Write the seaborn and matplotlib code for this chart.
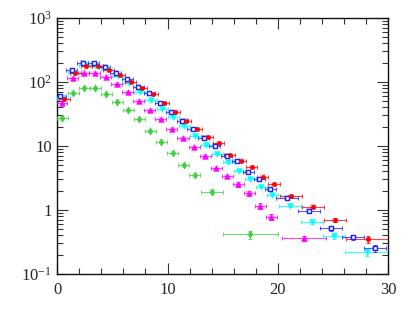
import matplotlib
matplotlib.use('Agg')
import matplotlib.pyplot as plt
import numpy as np
import pandas as pd
import seaborn as sns
from matplotlib.ticker import FixedLocator, FixedFormatter, LogLocator, NullFormatter, MultipleLocator

# ---- data ----
red_x = [0.65, 1.65, 2.65, 3.65, 4.65, 5.65, 6.65, 7.65, 8.65, 9.65, 10.65, 11.65,
         12.65, 13.65, 14.65, 15.65, 16.65, 17.65, 18.65, 19.65, 21.2, 23.2, 25.2, 28.2]
red_xerr = [0.5] * 20 + [1.0, 1.0, 1.0, 2.0]
red_y = [53.7, 140, 178, 178, 154, 128, 101, 79.7, 64.2, 46.5, 34.4, 24.9,
         18.2, 13.7, 11.0, 7.24, 5.89, 4.65, 3.31, 2.55, 1.65, 1.13, 0.70, 0.35]
red_yerr = [0] * 20 + [0.08, 0.07, 0.06, 0.04]

blue_x = [0.25, 1.3, 2.3, 3.3, 4.3, 5.3, 6.35, 7.35, 8.35, 9.35, 10.35, 11.35,
          12.3, 13.3, 14.3, 15.35, 16.3, 17.3, 18.3, 19.3, 20.8, 22.8, 24.8, 26.8, 28.8]
blue_xerr = [0.5] * 20 + [1.0] * 5
blue_y = [60.4, 154, 200, 196, 173, 140, 110, 84.5, 66.6, 46.5, 34.0, 24.9,
          18.2, 13.5, 10.1, 7.05, 5.83, 3.92, 3.05, 2.13, 1.56, 0.975, 0.518, 0.375, 0.252]
blue_yerr = [0] * 20 + [0.06, 0.05, 0.04, 0.03, 0.03]

cyan_x = [0.5, 1.5, 2.5, 3.5, 4.5, 5.5, 6.5, 7.5, 8.5, 9.5, 10.5, 11.5,
          12.5, 13.5, 14.5, 15.5, 16.5, 17.5, 18.5, 19.5, 21.1, 23.1, 25.1, 28.05]
cyan_xerr = [0.5] * 20 + [1.0, 1.0, 1.0, 2.0]
cyan_y = [55.6, 140, 184, 180, 160, 126, 98.2, 70.5, 52.3, 38.5, 28.4, 20.5,
          14.4, 10.4, 7.6, 5.56, 4.10, 3.05, 2.30, 1.71, 1.17, 0.657, 0.392, 0.218]
cyan_yerr = [0] * 20 + [0.06, 0.05, 0.04, 0.03]

magenta_x = [0.4, 1.4, 2.4, 3.4, 4.4, 5.4, 6.4, 7.4, 8.4, 9.4, 10.4, 11.4,
             12.4, 13.4, 14.4, 15.4, 16.4, 17.4, 18.4, 19.4, 22.4]
magenta_xerr = [0.5] * 20 + [2.0]
magenta_y = [46.5, 114, 140, 137, 121, 92.1, 69.0, 50.5, 36.1, 26.2, 18.2, 13.2,
             9.54, 6.98, 4.48, 3.40, 2.52, 1.82, 1.155, 0.786, 0.361]
magenta_yerr = [0] * 16 + [0.2, 0.18, 0.12, 0.08, 0.03]

green_x = [0.45, 1.45, 2.45, 3.45, 4.45, 5.45, 6.45, 7.45, 8.45, 9.45, 10.45, 11.45,
           12.45, 14.0, 17.5]
green_xerr = [0.5] * 13 + [1.0, 2.5]
green_y = [27.1, 66.6, 79.7, 79.7, 64.2, 49.3, 36.5, 26.1, 17.2, 11.75, 7.91, 5.05,
           3.52, 1.93, 0.417]
green_yerr = [0] * 13 + [0.15, 0.06]

series = [
    # name, x, xerr, y, yerr, color, marker, size, filled
    ('green', green_x, green_xerr, green_y, green_yerr, '#3fcf3f', 'd', 14, True),
    ('magenta', magenta_x, magenta_xerr, magenta_y, magenta_yerr, '#ff00ff', '^', 16, True),
    ('cyan', cyan_x, cyan_xerr, cyan_y, cyan_yerr, '#00ffff', 'v', 16, True),
    ('blue', blue_x, blue_xerr, blue_y, blue_yerr, '#2020ff', 's', 11, False),
    ('red', red_x, red_xerr, red_y, red_yerr, '#ff0000', 'o', 9, True),
]
SYS_FRAC = 0.09  # relative size of the faint systematic boxes

sns.set_style('ticks')
plt.rcParams['font.family'] = ['Liberation Serif', 'DejaVu Serif']
plt.rcParams['mathtext.fontset'] = 'custom'
plt.rcParams['mathtext.rm'] = 'Liberation Serif'
plt.rcParams['mathtext.it'] = 'Liberation Serif:italic'

fig = plt.figure(figsize=(4.09, 3.27), dpi=100)
ax = fig.add_axes([0.140, 0.162, 0.809, 0.783])

for name, x, xerr, y, yerr, color, marker, size, filled in series:
    df = pd.DataFrame({'x': x, 'y': y, 'xerr': xerr, 'yerr': yerr})
    # faint systematic boxes
    ax.bar(df['x'], df['y'] * 2 * SYS_FRAC, bottom=df['y'] * (1 - SYS_FRAC),
           width=0.5, color=color, alpha=0.22, linewidth=0, zorder=2)
    ax.errorbar(df['x'], df['y'], xerr=df['xerr'], yerr=df['yerr'], fmt='none',
                ecolor=color, elinewidth=0.8, capsize=1.6, capthick=0.8,
                alpha=0.75, zorder=3)
    if filled:
        sns.scatterplot(data=df, x='x', y='y', ax=ax, marker=marker, s=size,
                        color=color, edgecolor=color, linewidth=0.4, zorder=4,
                        legend=False)
    else:
        sns.scatterplot(data=df, x='x', y='y', ax=ax, marker=marker, s=size,
                        facecolor='white', edgecolor=color, linewidth=1.0,
                        zorder=4, legend=False)

ax.set_yscale('log')
ax.set_xlim(0, 30)
ax.set_ylim(0.1, 1000)
ax.set_xlabel('')
ax.set_ylabel('')

ax.xaxis.set_major_locator(FixedLocator([0, 10, 20, 30]))
ax.xaxis.set_minor_locator(MultipleLocator(2))
ax.yaxis.set_major_locator(FixedLocator([0.1, 1, 10, 100, 1000]))
ax.yaxis.set_major_formatter(FixedFormatter(
    [r'$\mathregular{10^{-1}}$', '1', '10', r'$\mathregular{10^{2}}$', r'$\mathregular{10^{3}}$']))
ax.yaxis.set_minor_locator(LogLocator(base=10, subs=np.arange(2, 10), numticks=20))
ax.yaxis.set_minor_formatter(NullFormatter())

ax.tick_params(which='both', direction='in', top=True, right=True,
               color='#333333', width=0.8, labelsize=12)
ax.tick_params(which='major', length=8)
ax.tick_params(which='minor', length=4)
ax.tick_params(axis='x', which='major', pad=6)
ax.tick_params(axis='y', which='major', pad=4)

for s in ['left', 'bottom', 'top', 'right']:
    ax.spines[s].set_visible(True)
    ax.spines[s].set_linewidth(1.0)
    ax.spines[s].set_color('#111111')

fig.savefig('out.png', dpi=100)
plt.close(fig)
